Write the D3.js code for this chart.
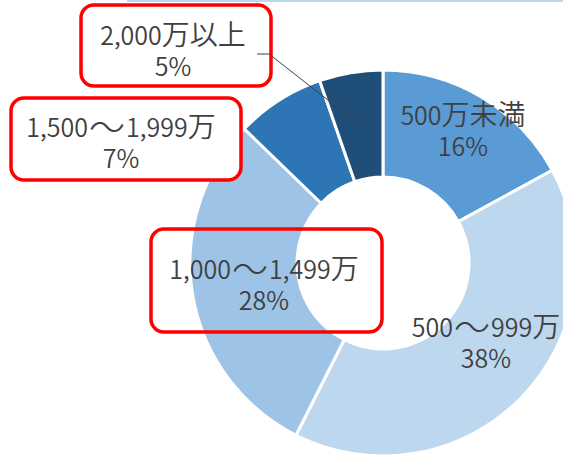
<!DOCTYPE html>
<html>
<head>
<meta charset="utf-8">
<script src="https://cdn.jsdelivr.net/npm/d3@7"></script>
<style>
  body { margin: 0; background: #fff; }
  svg { display: block; }
  text { font-family: "Noto Sans CJK JP", "Noto Sans", sans-serif; fill: #404040; font-weight: 350; }
</style>
</head>
<body>
<div id="chart"></div>
<script>
/* Donut chart of household income bands */

const categories = ["500万未満", "500～999万", "1,000～1,499万", "1,500～1,999万", "2,000万以上"];
const shares = [16, 38, 28, 7, 5];
const shareLabels = ["16%", "38%", "28%", "7%", "5%"];
const colors = ["#5b9bd5", "#bdd7ee", "#9dc3e6", "#2e75b6", "#1f4e79"];

const width = 563,
      height = 459,
      cx = 383, cy = 263,
      outerR = 193, innerR = 86;

// where each label block is centred (label layout, set by hand in the original)
const labelPos = [[463, 125], [486, 337], [264, 279], [121, 137], [173, 45]];
// red callout boxes: [x, y, w, h] for the last three labels
const boxes = [null, null, [151, 229, 231, 103], [11, 98, 230, 82], [81, 5, 190, 81]];

let svg = d3.select("#chart")
            .append("svg")
            .attr("width", width)
            .attr("height", height);

/* faint top border of the chart area */
svg.append("line")
   .attr("x1", 127).attr("x2", width)
   .attr("y1", 1).attr("y2", 1)
   .attr("stroke", "#bdd7ee")
   .attr("stroke-width", 2);

let data = categories.map((c, i) => ({cat: c, value: shares[i], label: shareLabels[i], i: i}));

let pie = d3.pie()
            .sort(null)
            .value(d => d.value);

let arc = d3.arc()
            .innerRadius(innerR)
            .outerRadius(outerR);

let g = svg.append("g")
           .attr("transform", `translate(${cx}, ${cy})`);

g.selectAll("path")
 .data(pie(data))
 .join("path")
 .attr("d", arc)
 .attr("fill", d => colors[d.data.i])
 .attr("stroke", "#fff")
 .attr("stroke-width", 3)
 .attr("stroke-linejoin", "round");

/* callout boxes */
boxes.forEach(b => {
    if (!b) return;
    svg.append("rect")
       .attr("x", b[0]).attr("y", b[1])
       .attr("width", b[2]).attr("height", b[3])
       .attr("rx", 13)
       .attr("fill", b === boxes[2] ? "none" : "#fff")
       .attr("stroke", "#ff0000")
       .attr("stroke-width", 3.5);
});

/* leader line for the smallest slice */
let a5 = pie(data)[4];
let mid5 = (a5.startAngle + a5.endAngle) / 2;
let r5 = 140;
svg.append("polyline")
   .attr("points", [[257, 54], [269, 54],
                    [cx + r5 * Math.sin(mid5), cy - r5 * Math.cos(mid5)]].join(" "))
   .attr("fill", "none")
   .attr("stroke", "#404040")
   .attr("stroke-width", 1);

/* one line of label: digits smaller than the kanji, wide thin wave dash */
function addLine(t, str, x, y) {
    let line = t.append("tspan").attr("x", x).attr("y", y);
    let shift = 0;
    str.match(/[0-9,%]+|～|[^0-9,%～]+/g).forEach(run => {
        let s = line.append("tspan").text(run);
        if (run === "～") {
            s.attr("font-size", 36).attr("dx", 1).attr("dy", 4)
             .style("font-weight", 300).style("letter-spacing", "1px");
            shift = -4;
            return;
        }
        s.attr("font-size", /[0-9,%]/.test(run) ? 25 : 28);
        if (shift) { s.attr("dy", shift); shift = 0; }
    });
}

/* labels */
data.forEach((d, i) => {
    let t = svg.append("text")
               .attr("text-anchor", "middle");
    addLine(t, d.cat, labelPos[i][0], labelPos[i][1]);
    addLine(t, d.label, labelPos[i][0], labelPos[i][1] + 31);
});
</script>
</body>
</html>
